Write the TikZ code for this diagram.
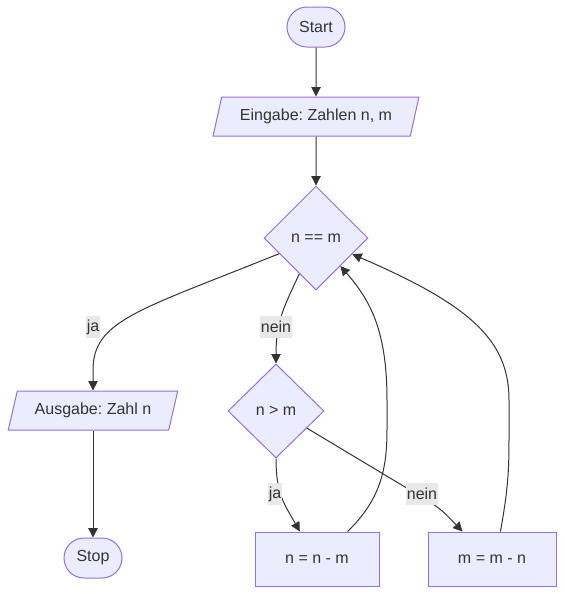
\documentclass[tikz,border=0pt]{standalone}
\usepackage{fontspec}
\setmainfont{Liberation Sans}
\usetikzlibrary{shapes.geometric,arrows.meta,calc}
\definecolor{nodefill}{HTML}{ECECFF}
\definecolor{nodeline}{HTML}{9370DB}
\definecolor{edgecol}{HTML}{333333}
\definecolor{labelbg}{HTML}{E8E8E8}
\definecolor{txt}{HTML}{333333}
\frenchspacing
\begin{document}
\begin{tikzpicture}[x=0.75pt,y=-0.75pt,
 base/.style={draw=nodeline,fill=nodefill,line width=0.75pt,text=txt,font=\fontsize{12}{14}\selectfont,inner sep=0pt},
 term/.style={base,rectangle,rounded corners=15pt,minimum width=43.5pt,minimum height=30pt},
 io/.style={base,trapezium,trapezium left angle=65,trapezium right angle=115,trapezium stretches=true,minimum height=29.25pt},
 decision/.style={base,diamond,aspect=1},
 proc/.style={base,rectangle,minimum height=40.5pt},
 edge/.style={draw=edgecol,line width=0.75pt,-{Triangle[length=7pt,width=7pt]}},
 elabel/.style={fill=labelbg,text=txt,font=\fontsize{12}{14}\selectfont,inner xsep=0.5pt,inner ysep=0pt,minimum height=17pt}
]
\useasboundingbox (0,0) rectangle (565,594);

\node[term] (start) at (316,27) {Start};
\node[io,minimum width=154.5pt] (ein) at (316,116.5) {Eingabe: Zahlen n, m};
\node[decision,minimum width=78pt,minimum height=78pt] (d1) at (316,238) {n == m};
\node[io,minimum width=127.5pt] (aus) at (93,410.5) {Ausgabe: Zahl n};
\node[term] (stop) at (93,558) {Stop};
\node[decision,minimum width=72pt,minimum height=70.5pt] (d2) at (276,411) {n > m};
\node[proc,minimum width=93pt] (p1) at (317,559) {n = n - m};
\node[proc,minimum width=96pt] (p2) at (492,559) {m = m - n};

\draw[edge] (start) -- (ein);
\draw[edge] (ein) -- (d1);
\draw[edge] (d1.-157) .. controls (140,310) and (93,320) .. (93,370) -- (aus.north -| aus.center);
\draw[edge] (aus.south -| aus.center) -- (stop);
\draw[edge] (d1.-115) .. controls (285,305) and (276,320) .. (d2.north);
\draw[edge] (d2.south) .. controls (276,495) and (285,505) .. (p1.122);
\draw[edge] (d2.-29) -- (410,490) .. controls (440,508) .. (p2.137);
\draw[edge] (p1.42) .. controls (380,500) and (387,470) .. (387,430) -- (387,400) .. controls (387,330) and (370,300) .. (d1.-49);
\draw[edge] (p2.73) .. controls (508,490) and (509,470) .. (509,440) -- (509,400) .. controls (509,340) and (470,305) .. (d1.-24);

\node[elabel] (l1) at (93,327) {ja};
\node[elabel] (l2) at (276,327) {nein};
\node[elabel] (l3) at (275,494) {ja};
\node[elabel] (l4) at (422,494) {nein};
\end{tikzpicture}
\end{document}
